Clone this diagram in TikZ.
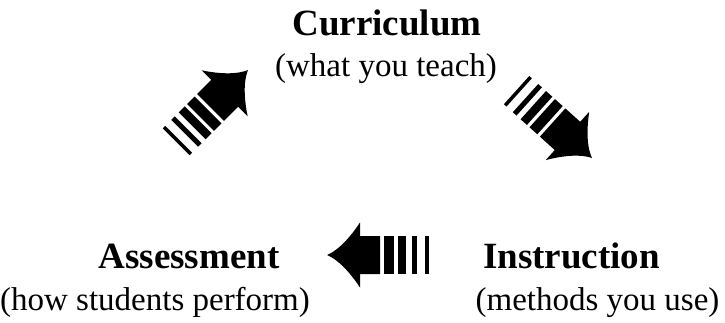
\documentclass[tikz,border=0pt]{standalone}
\usepackage{fontspec}
\setmainfont{Liberation Serif}
\begin{document}
\begin{tikzpicture}[x=1pt,y=-1pt,
    head/.style={anchor=base, inner sep=0pt, font=\fontsize{37}{40}\selectfont\bfseries},
    sub/.style={anchor=base, inner sep=0pt, font=\fontsize{33}{36}\selectfont},
    blockarrow/.pic={
      \fill (0,0) .. controls (-14,6) and (-26,22) .. (-33,32.5) -- (-33,19) -- (-53,19)
        -- (-53,-19) -- (-33,-19) -- (-33,-32.5) .. controls (-26,-22) and (-14,-6) .. (0,0) -- cycle;
      \foreach \a/\b in {56.5/67,70.5/79,84.5/89.5,98/101.5}
        \fill (-\a,19) rectangle (-\b,-19);
    }]
    \useasboundingbox (0,0) rectangle (725,322);
    \node[head] (curr) at (387,35) {Curriculum};
    \node[sub] (currsub) at (386,76) {(what you teach)};
    \node[head] (instr) at (571.5,268) {Instruction};
    \node[sub] (instrsub) at (597.5,310) {(methods you use)};
    \node[head] (assess) at (189,268) {Assessment};
    \node[sub] (assesssub) at (155,310) {(how students perform)};
    \pic[rotate=45] at (248,70) {blockarrow};
    \pic[rotate=-42] at (592,158) {blockarrow};
    \pic[rotate=180] at (327,255) {blockarrow};
  \end{tikzpicture}
\end{document}
